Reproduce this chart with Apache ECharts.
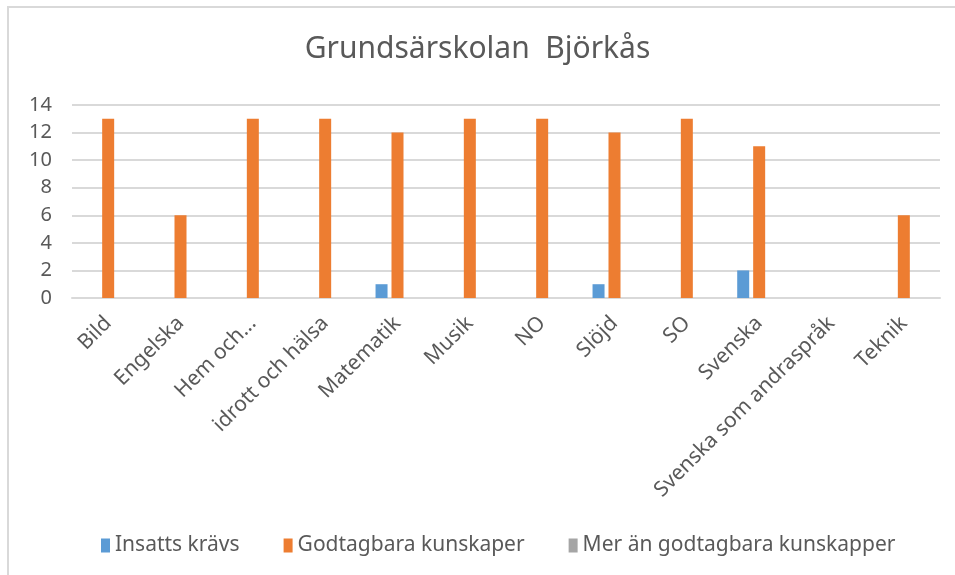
<!DOCTYPE html>
<html>
<head>
<meta charset="utf-8">
<script src="https://cdn.jsdelivr.net/npm/echarts@6/dist/echarts.min.js"></script>
<style>
  html, body { margin: 0; padding: 0; background: #fff; overflow: hidden; }
  #frame { position: absolute; left: 7px; top: 6px; width: 1000px; height: 1000px; border: 2px solid #d9d9d9; }
  #main { position: absolute; left: 0; top: 0; width: 955px; height: 575px; }
</style>
</head>
<body>
<div id="frame"></div>
<div id="main"></div>
<script>
// kategorier (ämnen)
var subjects = ['Bild', 'Engelska', 'Hem och...', 'idrott och hälsa', 'Matematik', 'Musik',
  'NO', 'Slöjd', 'SO', 'Svenska', 'Svenska som andraspråk', 'Teknik'];
// serier
var insattsKravs = [0, 0, 0, 0, 1, 0, 0, 1, 0, 2, 0, 0];
var godtagbara = [13, 6, 13, 13, 12, 13, 13, 12, 13, 11, 0, 6];
var merAnGodtagbara = [0, 0, 0, 0, 0, 0, 0, 0, 0, 0, 0, 0];
var seriesNames = ['Insatts krävs', 'Godtagbara kunskaper', 'Mer än godtagbara kunskapper'];
var yTicks = [0, 2, 4, 6, 8, 10, 12, 14];

var font = 'Noto Sans';
var textColor = '#595959';

var myChart = echarts.init(document.getElementById('main'));
var option = {
  animation: false,
  color: ['#5b9bd5', '#ed7d31', '#a5a5a5'],
  title: {
    text: 'Grundsärskolan  Björkås',
    left: 'center',
    top: 29,
    textStyle: { fontFamily: font, fontSize: 30, fontWeight: 'normal', color: textColor }
  },
  legend: {
    data: seriesNames,
    bottom: 14,
    left: 96,
    itemWidth: 9,
    itemHeight: 14,
    itemGap: 44,
    icon: 'rect',
    textStyle: { fontFamily: font, fontSize: 21, color: textColor }
  },
  grid: { left: 72, right: 15, top: 105, bottom: 277 },
  xAxis: {
    type: 'category',
    data: subjects,
    axisLine: { lineStyle: { color: '#d9d9d9', width: 2 } },
    axisTick: { show: false },
    axisLabel: {
      rotate: 45,
      interval: 0,
      margin: 22,
      fontFamily: font,
      fontSize: 21,
      color: textColor
    }
  },
  yAxis: {
    type: 'value',
    min: yTicks[0],
    max: yTicks[yTicks.length - 1],
    interval: 2,
    axisLine: { show: false },
    axisTick: { show: false },
    splitLine: { lineStyle: { color: '#d9d9d9', width: 2 } },
    axisLabel: { fontFamily: font, fontSize: 20, color: textColor, margin: 20 }
  },
  series: [
    { name: seriesNames[0], type: 'bar', data: insattsKravs, barWidth: 12, barGap: '33%' },
    { name: seriesNames[1], type: 'bar', data: godtagbara, barWidth: 12, barGap: '33%' },
    { name: seriesNames[2], type: 'bar', data: merAnGodtagbara, barWidth: 12, barGap: '33%' }
  ]
};
myChart.setOption(option);
</script>
</body>
</html>
